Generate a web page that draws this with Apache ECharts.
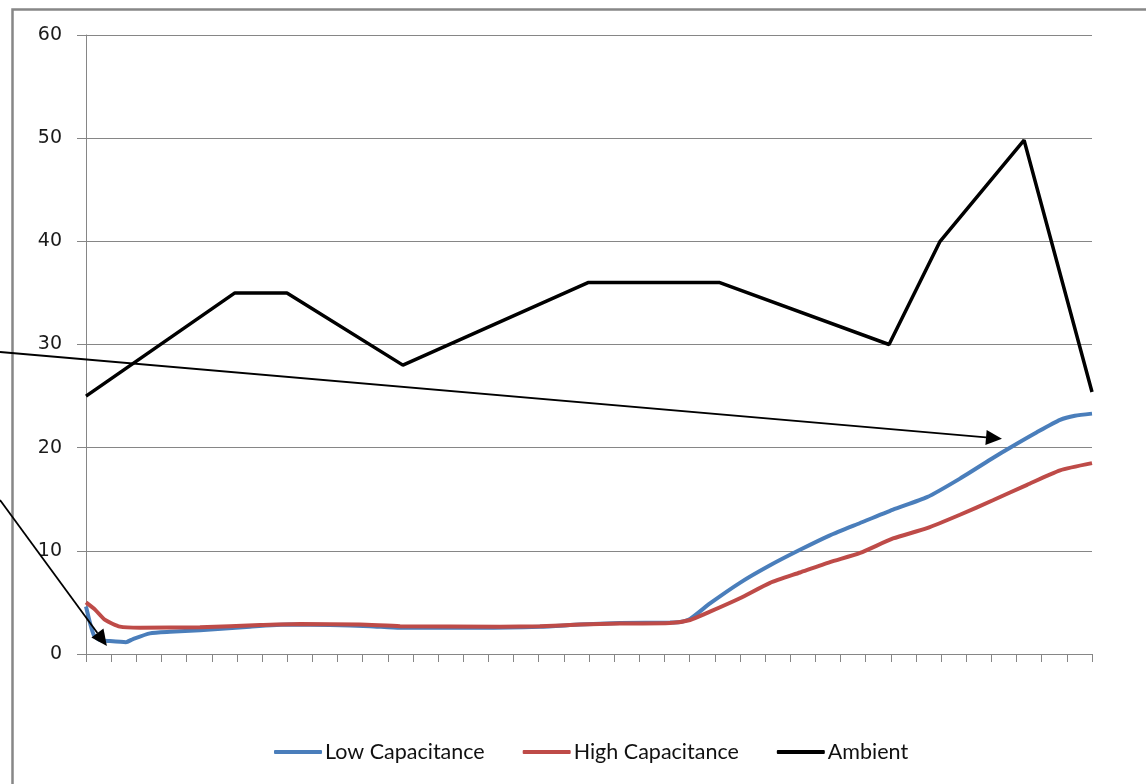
<!DOCTYPE html>
<html>
<head>
<meta charset="utf-8">
<script src="https://cdn.jsdelivr.net/npm/echarts@6/dist/echarts.min.js"></script>
<style>
  html, body { margin: 0; padding: 0; background: #fff; }
  #chart { width: 1146px; height: 784px; }
</style>
</head>
<body>
<div id="chart"></div>
<script>
// Elapsed time (tick units) and temperature readings for each probe
const lowCapT = [0, 0.16, 0.32, 0.56, 0.95, 1.59, 1.87, 2.54, 3.34, 4.53,
  6.52, 8.11, 9.70, 11.29, 12.49, 15.67, 18.05, 19.64, 21.23, 23.22,
  23.62, 24.02, 24.81, 26.00, 27.20, 28.39, 29.58, 30.78, 32.09, 33.44,
  34.75, 36.06, 36.74, 37.81, 38.73, 39.32, 40];
const lowCap = [4.6, 3.0, 1.8, 1.35, 1.25, 1.15, 1.45, 2.0, 2.15, 2.3,
  2.65, 2.85, 2.8, 2.7, 2.55, 2.55, 2.65, 2.85, 3.0, 3.05,
  3.1, 3.4, 4.9, 6.9, 8.6, 10.1, 11.5, 12.7, 14.0, 15.2,
  17.0, 19.0, 20.0, 21.5, 22.7, 23.1, 23.3];

const highCapT = [0, 0.36, 0.76, 1.35, 2.15, 4.53, 6.92, 8.51, 10.89, 12.49,
  16.46, 18.05, 19.64, 21.23, 23.22, 24.02, 24.81, 26.00, 27.20, 28.39,
  29.58, 30.78, 32.09, 33.44, 34.75, 36.06, 37.42, 38.73, 40];
const highCap = [5.0, 4.3, 3.3, 2.65, 2.55, 2.6, 2.8, 2.9, 2.85, 2.7,
  2.65, 2.7, 2.85, 2.95, 3.0, 3.3, 4.1, 5.4, 6.9, 7.9,
  8.9, 9.8, 11.2, 12.2, 13.5, 14.9, 16.4, 17.8, 18.5];

const ambientT = [0, 5.92, 7.99, 12.6, 19.96, 25.2, 31.93, 33.96, 37.3, 40];
const ambient = [25, 35, 35, 28, 36, 36, 30, 40, 49.8, 25.4];

const seriesNames = ['Low Capacitance', 'High Capacitance', 'Ambient'];
const seriesColors = ['#4A7EBB', '#BE4B48', '#000000'];

// Annotation arrows: start point on the page, tip in data units
const arrowStarts = [[0, 352], [0, 500]];
const arrowTips = [[36.42, 20.86], [0.83, 0.78]];

const zip = (xs, ys) => xs.map((x, i) => [x, ys[i]]);

const chart = echarts.init(document.getElementById('chart'), null, { renderer: 'canvas' });

const axisGrey = '#868686';

chart.setOption({
  animation: false,
  backgroundColor: '#ffffff',
  grid: { left: 86, right: 54, top: 35, bottom: 130, containLabel: false },
  xAxis: {
    type: 'value', min: 0, max: 40, interval: 1,
    axisLine: { show: true, lineStyle: { color: axisGrey, width: 1 } },
    axisTick: { show: true, length: 8, lineStyle: { color: axisGrey } },
    axisLabel: { show: false },
    splitLine: { show: false }
  },
  yAxis: {
    type: 'value', min: 0, max: 60, interval: 10,
    axisLine: { show: true, lineStyle: { color: axisGrey, width: 1 } },
    axisTick: { show: true, length: 9, lineStyle: { color: axisGrey } },
    axisLabel: { margin: 24, color: '#1a1a1a', fontFamily: 'DejaVu Sans', fontSize: 19 },
    splitLine: { show: true, lineStyle: { color: axisGrey, width: 1 } }
  },
  legend: {
    bottom: 16, left: 269,
    icon: 'roundRect', itemWidth: 48, itemHeight: 4, itemGap: 38,
    textStyle: { fontFamily: 'Lato', fontSize: 21.5, color: '#111', padding: [0, 0, 0, -2] },
    data: seriesNames
  },
  series: [
    { name: seriesNames[0], type: 'line', symbol: 'none', color: seriesColors[0],
      smooth: 0.2,
      lineStyle: { width: 4, color: seriesColors[0] }, data: zip(lowCapT, lowCap) },
    { name: seriesNames[1], type: 'line', symbol: 'none', color: seriesColors[1],
      smooth: 0.2,
      lineStyle: { width: 4, color: seriesColors[1] }, data: zip(highCapT, highCap) },
    { name: seriesNames[2], type: 'line', symbol: 'none', color: seriesColors[2],
      lineStyle: { width: 3.5, color: seriesColors[2] }, data: zip(ambientT, ambient) }
  ]
});

// Outer frame of the chart area plus the two callout arrows
function buildGraphics() {
  const elements = [{
    type: 'rect', silent: true,
    shape: { x: 12.5, y: 9.5, width: 1300, height: 900 },
    style: { fill: 'none', stroke: '#878787', lineWidth: 2.5 }
  }];
  arrowStarts.forEach((start, i) => {
    const tip = chart.convertToPixel({ gridIndex: 0 }, arrowTips[i]);
    const dx = tip[0] - start[0], dy = tip[1] - start[1];
    const len = Math.hypot(dx, dy);
    const ux = dx / len, uy = dy / len;
    const headLen = 16, headHalf = 7.5;
    const bx = tip[0] - ux * headLen, by = tip[1] - uy * headLen;
    elements.push({
      type: 'line', silent: true, z: 100,
      shape: { x1: start[0], y1: start[1], x2: bx, y2: by },
      style: { stroke: '#000', lineWidth: 1.8 }
    });
    elements.push({
      type: 'polygon', silent: true, z: 100,
      shape: { points: [tip, [bx - uy * headHalf, by + ux * headHalf], [bx + uy * headHalf, by - ux * headHalf]] },
      style: { fill: '#000' }
    });
  });
  chart.setOption({ graphic: elements });
}
buildGraphics();
</script>
</body>
</html>
